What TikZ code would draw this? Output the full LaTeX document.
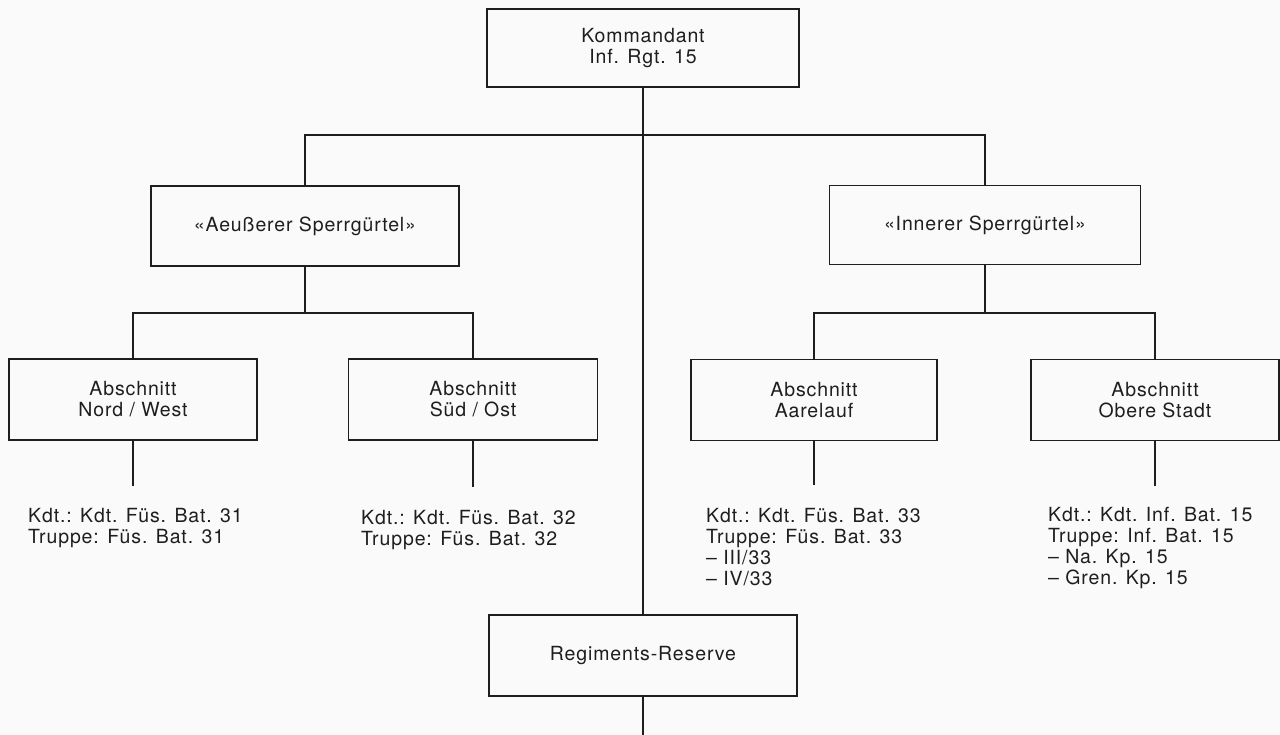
\documentclass[tikz,border=0pt]{standalone}
\usepackage{fontspec}
\setmainfont{TeX Gyre Heros}[LetterSpace=4.5]
\definecolor{ink}{RGB}{30,30,30}
\definecolor{paper}{RGB}{250,250,250}
\begin{document}
\begin{tikzpicture}[x=1pt,y=-1pt,
  every node/.style={text=ink},
  orgbox/.style={draw=ink,line width=1.3pt,inner sep=0pt,align=center,
    font=\fontsize{19.5}{21}\selectfont},
  info/.style={anchor=north west,inner sep=0pt,align=left,
    font=\fontsize{19.5}{21}\selectfont},
  conn/.style={draw=ink,line width=1.3pt}]
\fill[paper] (0,0) rectangle (1280,735);
\useasboundingbox (0,0) rectangle (1280,735);

% boxes
\node[orgbox,minimum width=312pt,minimum height=78pt] (top) at (643,48) {Kommandant\\Inf. Rgt. 15};
\node[orgbox,minimum width=308pt,minimum height=80pt] (aus) at (305,226) {«Aeußerer Sperrgürtel»};
\node[orgbox,minimum width=311pt,minimum height=79pt] (inn) at (985,225) {«Innerer Sperrgürtel»};
\node[orgbox,minimum width=248pt,minimum height=81pt] (nw) at (133,399.5) {Abschnitt\\Nord / West};
\node[orgbox,minimum width=249pt,minimum height=81pt] (so) at (473,399.5) {Abschnitt\\Süd / Ost};
\node[orgbox,minimum width=246pt,minimum height=81pt] (aa) at (814,400) {Abschnitt\\Aarelauf};
\node[orgbox,minimum width=248pt,minimum height=81pt] (os) at (1155,400) {Abschnitt\\Obere Stadt};
\node[orgbox,minimum width=308pt,minimum height=81pt] (rr) at (643,655.5) {Regiments-Reserve};

% info texts
\node[info] (tnw) at (28,508) {Kdt.: Kdt. Füs. Bat. 31\\Truppe: Füs. Bat. 31};
\node[info] (tso) at (361,510) {Kdt.: Kdt. Füs. Bat. 32\\Truppe: Füs. Bat. 32};
\node[info] (taa) at (706,508) {Kdt.: Kdt. Füs. Bat. 33\\Truppe: Füs. Bat. 33\\– III/33\\– IV/33};
\node[info] (tos) at (1048,507) {Kdt.: Kdt. Inf. Bat. 15\\Truppe: Inf. Bat. 15\\– Na. Kp. 15\\– Gren. Kp. 15};

% junctions
\coordinate (j1) at (643,135);
\coordinate (j2) at (305,313);
\coordinate (j3) at (985,313);
\coordinate (enw) at (133,486);
\coordinate (eso) at (473,487);
\coordinate (eaa) at (814,485);
\coordinate (eos) at (1155,486);
\coordinate (bot) at (643,740);

% connectors
\draw[conn] (top.south) -- (rr.north);
\draw[conn] (aus.north) |- (j1) -| (inn.north);
\draw[conn] (aus.south) -- (j2);
\draw[conn] (nw.north) |- (j2) -| (so.north);
\draw[conn] (inn.south) -- (j3);
\draw[conn] (aa.north) |- (j3) -| (os.north);
\draw[conn] (nw.south) -- (enw);
\draw[conn] (so.south) -- (eso);
\draw[conn] (aa.south) -- (eaa);
\draw[conn] (os.south) -- (eos);
\draw[conn] (rr.south) -- (bot);
\end{tikzpicture}
\end{document}
